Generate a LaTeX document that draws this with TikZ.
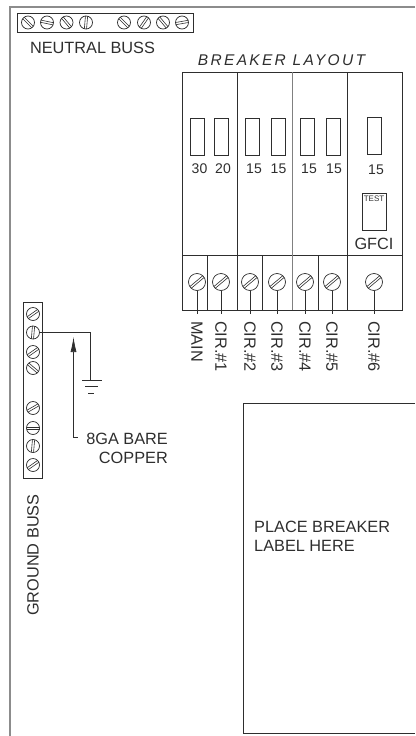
\documentclass[tikz,border=0pt]{standalone}
\usepackage{fontspec}
\setmainfont{Liberation Sans}
\newfontfamily\layoutfont[LetterSpace=15]{Liberation Sans}
\usetikzlibrary{arrows.meta}
\definecolor{ink}{HTML}{2E2E2E}
\tikzset{
  txt/.style={inner sep=0pt,text=ink,font=\fontsize{16.3}{19}\selectfont},
  amps/.style={inner sep=0pt,text=ink,font=\fontsize{14}{17}\selectfont},
  cirtxt/.style={txt,rotate=-90,anchor=west,inner xsep=7pt},
  handle/.style={draw=ink,line width=0.8pt,minimum width=14pt,minimum height=37pt,inner sep=0pt},
  screwbody/.style={draw=ink,circle,line width=0.7pt,minimum size=#1,inner sep=0pt},
}
% name, x, y, radius, slot angle
\newcommand{\screwat}[5]{%
  \node (#1) at (#2,#3) [screwbody=2*#4 pt] {};
  \draw [ink,line width=0.6pt,shift={(#1.center)},rotate=#5] (-#4,-1.1) -- (#4,-1.1) (-#4,1.1) -- (#4,1.1);
}
\begin{document}
\begin{tikzpicture}[x=1pt,y=-1pt]

   \useasboundingbox (0,0) rectangle (415,736);

   % enclosure
   \draw [gray!90,line width=2pt] (415,7) -- (10,7) -- (10,736);

   % neutral buss
   \draw [ink,line width=0.8pt] (17,13) rectangle (193,32);
   \screwat{n1}{28}{22.5}{6.5}{-45}
   \screwat{n2}{47}{22.5}{6.5}{-12}
   \screwat{n3}{66.5}{22.5}{6.5}{-50}
   \screwat{n4}{86}{22.5}{6.5}{85}
   \screwat{n5}{124}{22.5}{6.5}{-45}
   \screwat{n6}{144}{22.5}{6.5}{55}
   \screwat{n7}{163}{22.5}{6.5}{-50}
   \screwat{n8}{182}{22.5}{6.5}{10}
   \node (neutral) at (92.5,47.5) [txt] {NEUTRAL BUSS};

   % breaker panel
   \node (layout) at (281.5,60) [inner sep=0pt,text=ink,font=\layoutfont\itshape\fontsize{15.5}{18}\selectfont] {BREAKER LAYOUT};
   \draw [ink,line width=0.9pt] (182.5,72) rectangle (402,310);
   \draw [ink,line width=0.9pt] (182.5,255) -- (402,255);
   \draw [ink,line width=0.9pt] (237,72) -- (237,310);
   \draw [gray,line width=0.9pt] (292,72) -- (292,310);
   \draw [ink,line width=0.9pt] (347,72) -- (347,310);
   \draw [ink,line width=0.6pt] (207,255) -- (207,310);
   \draw [ink,line width=0.6pt] (262,255) -- (262,310);
   \draw [ink,line width=0.6pt] (318,255) -- (318,310);

   \node (h1) at (197.5,136.5) [handle] {};
   \node (h2) at (221.5,136.5) [handle] {};
   \node (h3) at (252,136.5) [handle] {};
   \node (h4) at (278,136.5) [handle] {};
   \node (h5) at (307,136.5) [handle] {};
   \node (h6) at (333,136.5) [handle] {};
   \node (h7) at (374.5,136) [handle] {};

   \node (a1) at (199.5,169) [amps] {30};
   \node (a2) at (223,169) [amps] {20};
   \node (a3) at (254,169) [amps] {15};
   \node (a4) at (278.5,169) [amps] {15};
   \node (a5) at (309,169) [amps] {15};
   \node (a6) at (334,169) [amps] {15};
   \node (a7) at (376,170) [amps] {15};

   \node (test) at (374,211.5) [draw=ink,line width=0.8pt,minimum width=24pt,minimum height=37pt,inner sep=0pt] {};
   \node (testtxt) at (374,199) [inner sep=0pt,text=ink,font=\fontsize{8}{9}\selectfont] {TEST};
   \node (gfci) at (374,244) [txt] {GFCI};

   \screwat{s1}{197}{282}{8.5}{40}
   \screwat{s2}{221}{282}{8.5}{40}
   \screwat{s3}{250}{282}{8.5}{40}
   \screwat{s4}{277}{282}{8.5}{40}
   \screwat{s5}{305}{282}{8.5}{40}
   \screwat{s6}{332}{282}{8.5}{40}
   \screwat{s7}{374}{282}{8.5}{40}

   \node (main) at (197,314) [cirtxt] {MAIN};
   \node (cir1) at (221,314) [cirtxt] {CIR.\#1};
   \node (cir2) at (250,314) [cirtxt] {CIR.\#2};
   \node (cir3) at (277,314) [cirtxt] {CIR.\#3};
   \node (cir4) at (305,314) [cirtxt] {CIR.\#4};
   \node (cir5) at (332,314) [cirtxt] {CIR.\#5};
   \node (cir6) at (374,314) [cirtxt] {CIR.\#6};

   \draw [ink,line width=0.6pt] (s1.south) -- (main.west);
   \draw [ink,line width=0.6pt] (s2.south) -- (cir1.west);
   \draw [ink,line width=0.6pt] (s3.south) -- (cir2.west);
   \draw [ink,line width=0.6pt] (s4.south) -- (cir3.west);
   \draw [ink,line width=0.6pt] (s5.south) -- (cir4.west);
   \draw [ink,line width=0.6pt] (s6.south) -- (cir5.west);
   \draw [ink,line width=0.6pt] (s7.south) -- (cir6.west);

   % ground buss
   \draw [ink,line width=0.8pt] (23,302) rectangle (42,478);
   \screwat{g1}{33}{314}{6.5}{35}
   \screwat{g2}{33}{332.5}{6.5}{85}
   \screwat{g3}{33}{352}{6.5}{35}
   \screwat{g4}{33}{368}{6.5}{-40}
   \screwat{g5}{33}{408}{6.5}{30}
   \screwat{g6}{33}{428}{6.5}{0}
   \screwat{g7}{33}{446}{6.5}{85}
   \screwat{g8}{33}{465}{6.5}{35}
   \node (groundtxt) at (33,555) [txt,rotate=90] {GROUND BUSS};

   \coordinate (gnd) at (90.5,380);
   \coordinate (gndl1) at (82,380);
   \coordinate (gndr1) at (102,380);
   \coordinate (gndl2) at (85,386.5);
   \coordinate (gndr2) at (98,386.5);
   \coordinate (gndl3) at (88,393);
   \coordinate (gndr3) at (94,393);
   \draw [ink,line width=0.8pt] (g2.east) -| (gnd);
   \draw [ink,line width=0.6pt] (gndl1) -- (gndr1);
   \draw [ink,line width=0.6pt] (gndl2) -- (gndr2);
   \draw [ink,line width=0.6pt] (gndl3) -- (gndr3);

   \coordinate (tip) at (73.5,337);
   \coordinate (bend) at (73.5,437);
   \coordinate (tail) at (77.5,437);
   \draw [ink,line width=0.7pt,-{Latex[length=15pt,width=6pt]}] (tail) -- (bend) -- (tip);
   \node (bare) at (168,438.5) [txt,anchor=east] {8GA BARE};
   \node (copper) at (168,458) [txt,anchor=east] {COPPER};

   % label area
   \draw [ink,line width=0.9pt] (415,403) -- (243.5,403) -- (243.5,733) -- (415,733);
   \node (place) at (254,527) [txt,anchor=west] {PLACE BREAKER};
   \node (here) at (254,546) [txt,anchor=west] {LABEL HERE};

\end{tikzpicture}
\end{document}
